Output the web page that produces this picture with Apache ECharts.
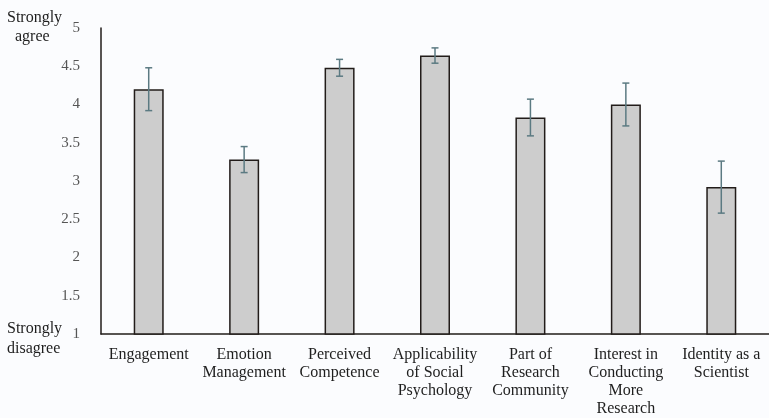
<!DOCTYPE html>
<html><head><meta charset="utf-8">
<script src="https://cdn.jsdelivr.net/npm/echarts@6/dist/echarts.min.js"></script>
<style>html,body{margin:0;padding:0;background:#fbfcfe;}#c{width:769px;height:418px;}</style>
</head><body><div id="c"></div>
<script>
var categories = ["Engagement", "Emotion\nManagement", "Perceived\nCompetence", "Applicability\nof Social\nPsychology", "Part of\nResearch\nCommunity", "Interest in\nConducting\nMore\nResearch", "Identity as a\nScientist"];
var means = [4.20, 3.28, 4.48, 4.64, 3.83, 4.00, 2.92];
var errors = [0.28, 0.17, 0.11, 0.10, 0.24, 0.28, 0.34];
var yTicks = [1, 1.5, 2, 2.5, 3, 3.5, 4, 4.5, 5];

var font = '"Liberation Serif", "DejaVu Serif", serif';
var chart = echarts.init(document.getElementById('c'));
var errData = means.map(function (m, i) { return [i, m - errors[i], m + errors[i]]; });
chart.setOption({
  backgroundColor: '#fbfcfe',
  animation: false,
  grid: { left: 101, top: 28, width: 675, height: 308, containLabel: false },
  xAxis: {
    type: 'category', data: categories,
    axisLine: { lineStyle: { color: '#221c1a', width: 1.5 } },
    axisTick: { show: false },
    axisLabel: { interval: 0, color: '#1e1e1e', fontFamily: font, fontSize: 16, lineHeight: 18, margin: 12 }
  },
  yAxis: {
    type: 'value', min: yTicks[0], max: yTicks[yTicks.length - 1], interval: 0.5,
    axisLine: { show: true, lineStyle: { color: '#221c1a', width: 1.5 } },
    axisTick: { show: false },
    splitLine: { show: false },
    axisLabel: { color: '#555', fontFamily: font, fontSize: 15, margin: 21 }
  },
  graphic: [
    { type: 'text', left: 7, top: 8, style: { text: 'Strongly\n  agree', font: '16px ' + font, fill: '#1e1e1e', lineHeight: 19 } },
    { type: 'text', left: 7, top: 319, style: { text: 'Strongly\ndisagree', font: '16px ' + font, fill: '#1e1e1e', lineHeight: 20 } }
  ],
  series: [
    {
      type: 'bar', data: means, barWidth: 30,
      itemStyle: { color: '#cdcdcd', borderColor: '#221c1a', borderWidth: 1.5 }
    },
    {
      type: 'custom', data: errData, z: 10,
      renderItem: function (params, api) {
        var x = api.value(0);
        var lo = api.coord([x, api.value(1)]);
        var hi = api.coord([x, api.value(2)]);
        var hw = 3.5;
        var st = { stroke: '#5b7a82', lineWidth: 1.5 };
        return {
          type: 'group', children: [
            { type: 'line', shape: { x1: lo[0], y1: lo[1], x2: hi[0], y2: hi[1] }, style: st },
            { type: 'line', shape: { x1: lo[0] - hw, y1: lo[1], x2: lo[0] + hw, y2: lo[1] }, style: st },
            { type: 'line', shape: { x1: hi[0] - hw, y1: hi[1], x2: hi[0] + hw, y2: hi[1] }, style: st }
          ]
        };
      }
    }
  ]
});
</script></body></html>
